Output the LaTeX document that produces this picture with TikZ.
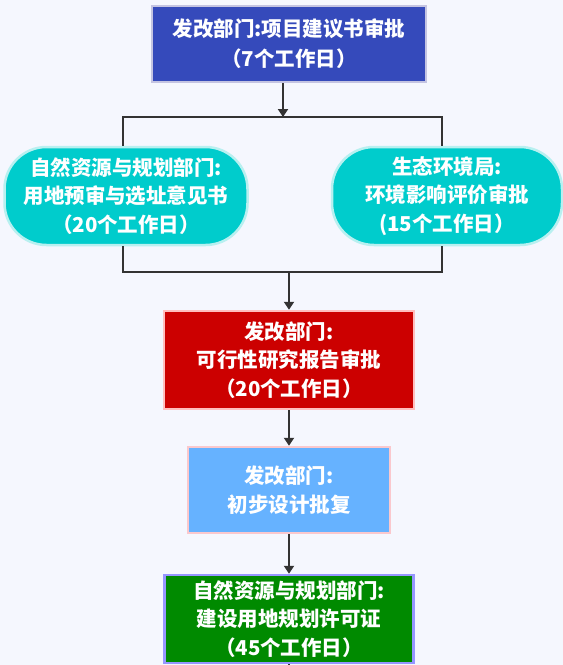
\documentclass[tikz,border=0pt]{standalone}
\usepackage{fontspec}
\newfontfamily\cjk{Noto Sans CJK SC}
\usetikzlibrary{arrows.meta, positioning}
\definecolor{pagebg}{RGB}{245, 247, 254}
\definecolor{ndrcblue}{RGB}{53, 74, 187}
\definecolor{ndrcedge}{RGB}{196, 196, 226}
\definecolor{landteal}{RGB}{0, 204, 204}
\definecolor{landedge}{RGB}{184, 240, 240}
\definecolor{feasred}{RGB}{204, 0, 0}
\definecolor{feasedge}{RGB}{255, 190, 190}
\definecolor{designblue}{RGB}{102, 178, 255}
\definecolor{designedge}{RGB}{250, 200, 205}
\definecolor{permitgreen}{RGB}{0, 138, 0}
\definecolor{permitedge}{RGB}{150, 150, 255}
\definecolor{linegray}{RGB}{51, 51, 51}

\begin{document}
\begin{tikzpicture}[
      x=1pt, y=-1pt,
      node distance=38pt,
      stage/.style={rectangle, line width=2.5pt, text=white, align=center,
        font=\cjk\bfseries\fontsize{20.5}{28.5}\selectfont, inner sep=0pt},
      ndrc/.style={stage, fill=ndrcblue, draw=ndrcedge, minimum width=274pt, minimum height=76pt},
      land/.style={stage, fill=landteal, draw=landedge, rounded corners=42pt, minimum height=98pt},
      link/.style={line width=2pt, linegray},
      arr/.style={link, -{Triangle[length=8pt, width=10pt]}}
    ]
      \fill[pagebg] (0,0) rectangle (563,665);
      \useasboundingbox (0,0) rectangle (563,665);

      \node[ndrc, font=\cjk\bfseries\fontsize{20.5}{30}\selectfont] (proposal) at (289,44) {发改部门:项目建议书审批\\（7个工作日）};
      \node[land, minimum width=243pt] (siting) at (126,196) {自然资源与规划部门:\\用地预审与选址意见书\\（20个工作日）};
      \node[land, minimum width=230pt] (eia) at (447,196) {生态环境局:\\环境影响评价审批\\(15个工作日）};
      \node[stage, fill=feasred, draw=feasedge, minimum width=250pt, minimum height=98pt] (feas) at (289,360) {发改部门:\\可行性研究报告审批\\（20个工作日）};
      \node[stage, fill=designblue, draw=designedge, minimum width=202pt, minimum height=86pt, below=35.5pt of feas] (design) {发改部门:\\初步设计批复};
      \node[stage, fill=permitgreen, draw=permitedge, minimum width=249pt, minimum height=88pt, below=39.5pt of design] (permit) {自然资源与规划部门:\\建设用地规划许可证\\（45个工作日）};

      % split and join of the two parallel approvals
      \coordinate (split) at (283,117);
      \coordinate (splitL) at (123,117);
      \coordinate (splitR) at (442,117);
      \coordinate (joinL) at (123,272);
      \coordinate (joinR) at (442,272);
      \coordinate (join) at (289,272);
      \coordinate (tail) at (289,672);

      \draw[arr] (proposal.south -| split) -- (split);
      \draw[link] (splitL |- siting.north) -- (splitL) -- (splitR) -- (splitR |- eia.north);
      \draw[link] (joinL |- siting.south) -- (joinL) -- (joinR) -- (joinR |- eia.south);
      \draw[arr] (join) -- (feas.north);
      \draw[arr] (feas) -- (design);
      \draw[arr] (design) -- (permit);
      \draw[link] (permit.south) -- (tail);
    \end{tikzpicture}
\end{document}
